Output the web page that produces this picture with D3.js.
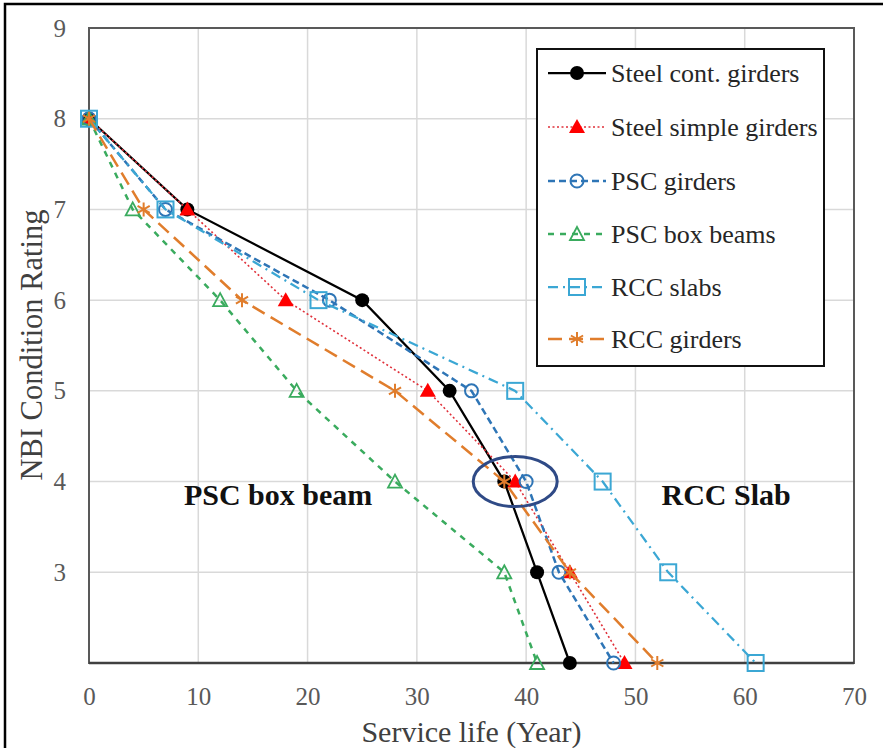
<!DOCTYPE html>
<html>
<head>
<meta charset="utf-8">
<script src="https://cdn.jsdelivr.net/npm/d3@7"></script>
<style>
  body { margin: 0; background: #fff; }
  svg { display: block; }
  svg text { font-family: "Liberation Serif", "Times New Roman", Times, serif; }
</style>
</head>
<body>
<svg id="chart" width="883" height="748"></svg>
<script>
// NBI condition rating reached at each service-life year, per bridge type
const ratings      = [8, 7, 6, 5, 4, 3, 2];
const steelCont    = [0, 9, 25, 33, 38, 41, 44];
const steelSimple  = [0, 9, 18, 31, 39, 44, 49];
const pscGirders   = [0, 7, 22, 35, 40, 43, 48];
const pscBoxBeams  = [0, 4, 12, 19, 28, 38, 41];
const rccSlabs     = [0, 7, 21, 39, 47, 53, 61];
const rccGirders   = [0, 5, 14, 28, 38, 44, 52];

const seriesNames = ["Steel cont. girders", "Steel simple girders", "PSC girders",
                     "PSC box beams", "RCC slabs", "RCC girders"];
const seriesYears = [steelCont, steelSimple, pscGirders, pscBoxBeams, rccSlabs, rccGirders];

const xTicks = [0, 10, 20, 30, 40, 50, 60, 70];
const yTicks = [3, 4, 5, 6, 7, 8, 9];

// Highlighted crossing point and text callouts
const highlight = { year: 39, rating: 4 };
const callouts = [
  { text: "PSC box beam", year: 17.3, rating: 3.74 },
  { text: "RCC Slab", year: 58.3, rating: 3.74 }
];

// Visual style per series
const styles = [
  { color: "#000000", dash: null,          width: 2.25, marker: "dot" },
  { color: "#e0303a", dash: "2,2.5",       width: 1.6,  marker: "tri" },
  { color: "#2e75b6", dash: "7,4",         width: 2.5,  marker: "ring" },
  { color: "#3aab5e", dash: "6,6",         width: 2.5,  marker: "otri" },
  { color: "#3ba7d4", dash: "10,5,2,5",    width: 2.25, marker: "sq" },
  { color: "#e07d2c", dash: "14,7",        width: 2.5,  marker: "star" }
];

const svg = d3.select("#chart");

const margin = { left: 89, right: 854, top: 28, bottom: 663 };
const x = d3.scaleLinear().domain([0, 70]).range([margin.left, margin.right]);
const y = d3.scaleLinear().domain([2, 9]).range([margin.bottom, margin.top]);

// Outer frame
svg.append("rect")
  .attr("x", 5).attr("y", 4).attr("width", 1000).attr("height", 1000)
  .attr("fill", "#fff").attr("stroke", "#000").attr("stroke-width", 2.5);

// Gridlines
const grid = svg.append("g");
grid.selectAll("line.v").data(xTicks.filter(d => d > 0 && d < 70)).join("line")
  .attr("x1", d => x(d)).attr("x2", d => x(d))
  .attr("y1", y(9)).attr("y2", y(2))
  .attr("stroke", "#d9d9d9").attr("stroke-width", 1.5);
grid.selectAll("line.h").data(yTicks.filter(d => d < 9)).join("line")
  .attr("x1", x(0)).attr("x2", x(70))
  .attr("y1", d => y(d)).attr("y2", d => y(d))
  .attr("stroke", "#d9d9d9").attr("stroke-width", 1.5);

// Plot frame
svg.append("rect")
  .attr("x", x(0)).attr("y", y(9))
  .attr("width", x(70) - x(0)).attr("height", y(2) - y(9))
  .attr("fill", "none").attr("stroke", "#595959").attr("stroke-width", 2);

// Axes (labels only; frame drawn above)
const xAxis = svg.append("g")
  .attr("transform", `translate(0,${y(2)})`)
  .call(d3.axisBottom(x).tickValues(xTicks).tickFormat(d3.format("d")).tickSize(0).tickPadding(24));
const yAxis = svg.append("g")
  .attr("transform", `translate(${x(0)},0)`)
  .call(d3.axisLeft(y).tickValues(yTicks).tickFormat(d3.format("d")).tickSize(0).tickPadding(23));
[xAxis, yAxis].forEach(a => {
  a.attr("font-family", null);
  a.select(".domain").remove();
  a.selectAll("text")
    .style("font-size", "25px").attr("fill", "#595959");
});
svg.append("line")
  .attr("x1", x(0)).attr("x2", x(70)).attr("y1", y(2)).attr("y2", y(2))
  .attr("stroke", "#404040").attr("stroke-width", 2.5);

// Axis titles
svg.append("text")
  .attr("x", (x(0) + x(70)) / 2).attr("y", 742)
  .attr("text-anchor", "middle")
  .style("font-size", "30px").attr("fill", "#404040")
  .text("Service life (Year)");
svg.append("text")
  .attr("transform", "translate(42,345) rotate(-90)")
  .attr("text-anchor", "middle")
  .style("font-size", "30.5px").attr("fill", "#404040")
  .text("NBI Condition Rating");

// Marker drawing
function drawMarker(g, kind, color) {
  if (kind === "dot") {
    g.append("circle").attr("r", 7).attr("fill", color);
  } else if (kind === "tri") {
    g.append("path").attr("d", "M0,-8 L8,6 L-8,6 Z").attr("fill", "#ff0000");
  } else if (kind === "ring") {
    g.append("circle").attr("r", 6.5).attr("fill", "none")
      .attr("stroke", color).attr("stroke-width", 2);
  } else if (kind === "otri") {
    g.append("path").attr("d", "M0,-7 L7,6 L-7,6 Z").attr("fill", "none")
      .attr("stroke", color).attr("stroke-width", 1.8);
  } else if (kind === "sq") {
    g.append("rect").attr("x", -8).attr("y", -8).attr("width", 16).attr("height", 16)
      .attr("fill", "none").attr("stroke", color).attr("stroke-width", 2);
  } else if (kind === "star") {
    const s = 7;
    g.append("path")
      .attr("d", `M0,${-s}L0,${s}M${-s * 0.87},${-s * 0.5}L${s * 0.87},${s * 0.5}M${-s * 0.87},${s * 0.5}L${s * 0.87},${-s * 0.5}`)
      .attr("stroke", color).attr("stroke-width", 2).attr("fill", "none");
  }
}

// Series lines and markers
const line = d3.line().x(d => x(d[0])).y(d => y(d[1]));
seriesYears.forEach((years, i) => {
  const st = styles[i];
  const pts = years.map((yr, j) => [yr, ratings[j]]);
  const g = svg.append("g");
  g.append("path").datum(pts)
    .attr("d", line)
    .attr("fill", "none")
    .attr("stroke", st.color)
    .attr("stroke-width", st.width)
    .attr("stroke-dasharray", st.dash);
  pts.forEach(p => {
    const m = g.append("g").attr("transform", `translate(${x(p[0])},${y(p[1])})`);
    drawMarker(m, st.marker, st.color);
  });
});

// Highlight ellipse
svg.append("ellipse")
  .attr("cx", x(highlight.year)).attr("cy", y(highlight.rating))
  .attr("rx", 42).attr("ry", 25)
  .attr("fill", "none").attr("stroke", "#2f4a86").attr("stroke-width", 3);

// Callout labels
svg.selectAll("text.callout").data(callouts).join("text")
  .attr("class", "callout")
  .attr("x", d => x(d.year)).attr("y", d => y(d.rating))
  .attr("text-anchor", "middle")
  .style("font-size", "30px").style("font-weight", "bold")
  .attr("fill", "#111")
  .text(d => d.text);

// Legend
const legend = svg.append("g");
legend.append("rect")
  .attr("x", 537).attr("y", 49).attr("width", 287).attr("height", 317)
  .attr("fill", "#fff").attr("stroke", "#111").attr("stroke-width", 2);
const rowY = [73, 127, 181, 234, 287, 339];
seriesNames.forEach((name, i) => {
  const st = styles[i];
  const row = legend.append("g").attr("transform", `translate(0,${rowY[i]})`);
  row.append("line")
    .attr("x1", 548).attr("x2", 606).attr("y1", 0).attr("y2", 0)
    .attr("stroke", st.color).attr("stroke-width", st.width)
    .attr("stroke-dasharray", st.dash);
  drawMarker(row.append("g").attr("transform", "translate(577,0)"), st.marker, st.color);
  row.append("text")
    .attr("x", 611).attr("y", 9)
    .style("font-size", "26px").attr("fill", "#262626")
    .text(name);
});
</script>
</body>
</html>
